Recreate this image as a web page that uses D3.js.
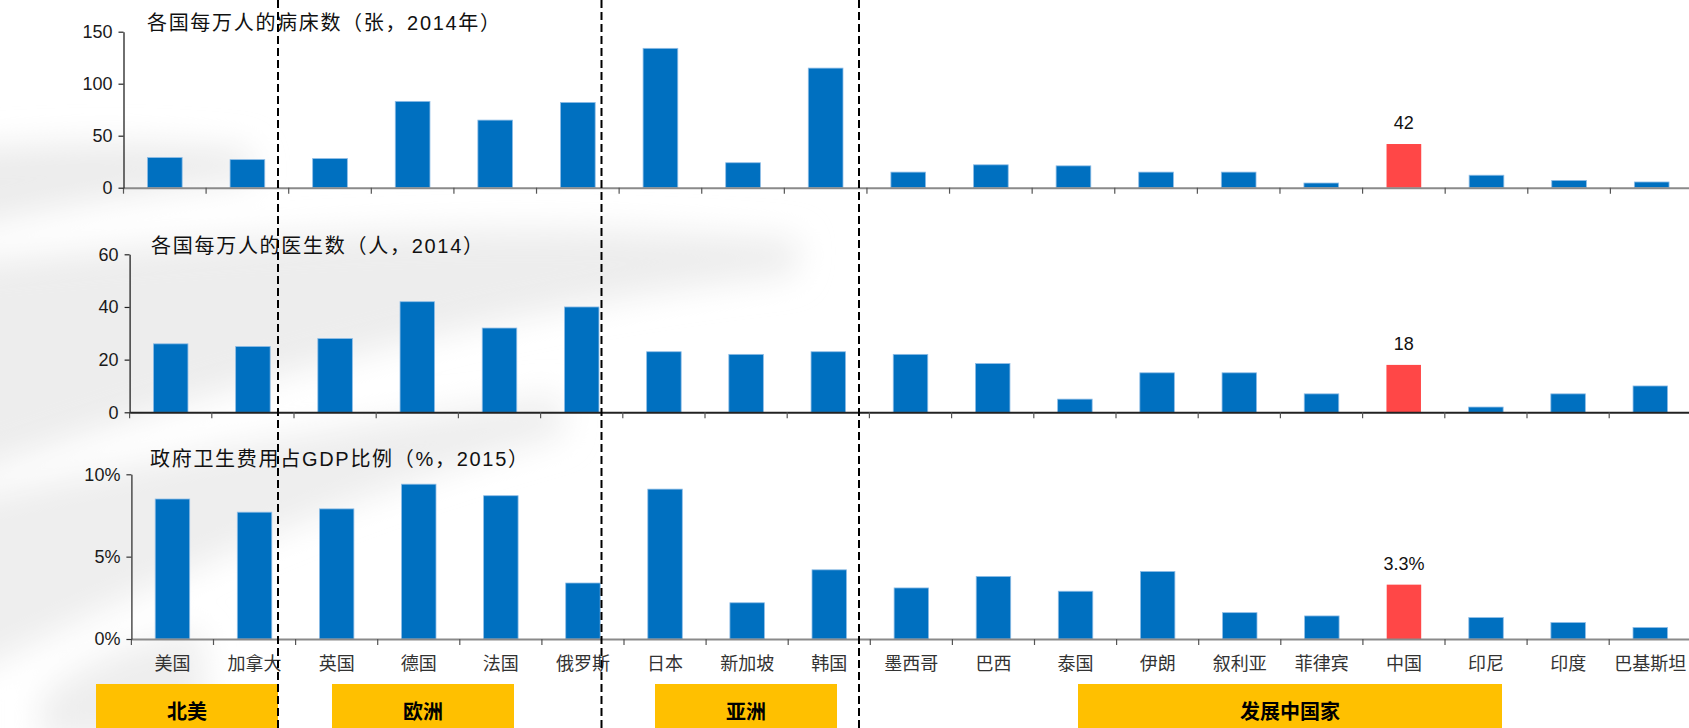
<!DOCTYPE html>
<html>
<head>
<meta charset="utf-8">
<script src="https://cdn.jsdelivr.net/npm/d3@7"></script>
<style>
  html, body { margin: 0; padding: 0; background: #fff; }
  svg { display: block; }
  text { font-family: "Liberation Sans", Arial, "Noto Sans CJK SC", sans-serif; }
</style>
</head>
<body>
<svg id="chart" width="1689" height="728"></svg>
<script>
// Countries along the shared category axis
const categories = ["美国","加拿大","英国","德国","法国","俄罗斯","日本","新加坡","韩国",
  "墨西哥","巴西","泰国","伊朗","叙利亚","菲律宾","中国","印尼","印度","巴基斯坦"];

// Hospital beds per 10,000 people (2014)
const bedsPer10k = [29,27,28,83,65,82,134,24,115,15,22,21,15,15,4.5,42,12,7,5.5];
// Doctors per 10,000 people (2014)
const doctorsPer10k = [26,25,28,42,32,40,23,22,23,22,18.5,5,15,15,7,18,2,7,10];
// Government health expenditure as % of GDP (2015)
const govHealthGdp = [8.5,7.7,7.9,9.4,8.7,3.4,9.1,2.2,4.2,3.1,3.8,2.9,4.1,1.6,1.4,3.3,1.3,1.0,0.7];

const bedsTicks = [0,50,100,150];
const doctorsTicks = [0,20,40,60];
const gdpTicks = [0,5,10];

const panelTitles = ["各国每万人的病床数（张，2014年）","各国每万人的医生数（人，2014）","政府卫生费用占GDP比例（%，2015）"];
const highlighted = "中国";
const highlightLabels = ["42","18","3.3%"];

const regionNames = ["北美","欧洲","亚洲","发展中国家"];

const svg = d3.select("#chart");
const W = 1689, H = 728;
const CJK = "\"Noto Sans CJK SC\", sans-serif";

// Faint grey swooshes in the background
const defs = svg.append("defs");
defs.append("filter").attr("id","soft").attr("x","-50%").attr("y","-50%").attr("width","200%").attr("height","200%")
  .append("feGaussianBlur").attr("stdDeviation", 16);
const bg = svg.append("g").attr("filter","url(#soft)").attr("stroke","none");
bg.append("path").attr("fill","#ececec")
  .attr("d","M-60,150 C60,140 160,140 250,150 L255,180 C160,190 60,205 -60,235 Z");
bg.append("path").attr("fill","#ededed")
  .attr("d","M-60,265 C220,235 520,215 800,240 L795,275 C540,300 260,370 -60,485 Z");
bg.append("path").attr("fill","#eeeeee")
  .attr("d","M-60,505 C140,460 340,425 560,395 L565,435 C360,490 200,560 -60,690 Z");
bg.append("path").attr("fill","#eeeeee")
  .attr("d","M40,700 C80,660 140,640 200,630 L210,740 L40,740 Z");

// Panel layout
const panels = [
  { values: bedsPer10k, ticks: bedsTicks, fmt: d => d, domain: [0,150],
    x0: 123.5, x1: 1693, yBase: 187.7, yTop: 31.7, titleX: 147, titleY: 23, titleLen: 353,
    baseColor: "#8a8a8a", axisColor: "#222" },
  { values: doctorsPer10k, ticks: doctorsTicks, fmt: d => d, domain: [0,60],
    x0: 129.6, x1: 1691.4, yBase: 412.3, yTop: 254.3, titleX: 151, titleY: 246, titleLen: 332,
    baseColor: "#222", axisColor: "#222" },
  { values: govHealthGdp, ticks: gdpTicks, fmt: d => d + "%", domain: [0,10],
    x0: 131.4, x1: 1691.3, yBase: 639, yTop: 474.3, titleX: 150, titleY: 459, titleLen: 378,
    baseColor: "#8a8a8a", axisColor: "#333" }
];

let lastX = null;
panels.forEach((p, pi) => {
  const x = d3.scaleBand().domain(categories).range([p.x0, p.x1]).paddingInner(0).paddingOuter(0);
  const y = d3.scaleLinear().domain(p.domain).range([p.yBase, p.yTop]);
  const barW = x.bandwidth() * 0.42;
  const g = svg.append("g");

  // bars
  g.selectAll("rect.bar").data(categories).enter().append("rect")
    .attr("class","bar")
    .attr("x", d => x(d) + (x.bandwidth() - barW) / 2)
    .attr("width", barW)
    .attr("y", (d, i) => y(p.values[i]))
    .attr("height", (d, i) => y(0) - y(p.values[i]))
    .attr("fill", d => d === highlighted ? "#FF4747" : "#0070C0")
    .attr("stroke", d => d === highlighted ? "none" : "#8fbde6")
    .attr("stroke-width", 0.8);

  // value label on highlighted bar
  const hi = categories.indexOf(highlighted);
  g.append("text")
    .attr("x", x(highlighted) + x.bandwidth() / 2)
    .attr("y", y(p.values[hi]) - 21)
    .attr("text-anchor","middle").attr("dominant-baseline","central")
    .attr("font-size", 18).attr("fill","#111")
    .text(highlightLabels[pi]);

  // x axis: baseline with band-boundary ticks
  const xAxis = d3.axisBottom(x).tickSize(0).tickFormat("");
  const xa = g.append("g").attr("transform", `translate(0,${p.yBase})`).call(xAxis);
  xa.select(".domain").attr("stroke", p.baseColor).attr("stroke-width", 2);
  g.selectAll("line.xtick").data(categories).enter().append("line")
    .attr("x1", d => x(d)).attr("x2", d => x(d))
    .attr("y1", p.yBase).attr("y2", p.yBase + 6)
    .attr("stroke", "#555").attr("stroke-width", 1.2);

  // y axis
  const yAxis = d3.axisLeft(y).tickValues(p.ticks).tickFormat(p.fmt).tickSizeInner(5).tickSizeOuter(0).tickPadding(6);
  const ya = g.append("g").attr("transform", `translate(${p.x0},0)`).call(yAxis);
  ya.select(".domain").attr("stroke", p.axisColor).attr("stroke-width", 1.3);
  ya.selectAll(".tick line").attr("stroke", p.axisColor).attr("stroke-width", 1.2);
  ya.selectAll(".tick text").attr("font-size", 18).attr("fill", "#1a1a1a")
    .attr("font-family", "\"Liberation Sans\", Arial, sans-serif");

  // panel title
  g.append("text")
    .attr("x", p.titleX).attr("y", p.titleY)
    .attr("dominant-baseline","central")
    .attr("font-size", 20).attr("fill","#111")
    .attr("textLength", p.titleLen).attr("lengthAdjust","spacing")
    .text(panelTitles[pi]);

  lastX = { x, p };
});

// category labels below the bottom panel
svg.append("g").selectAll("text").data(categories).enter().append("text")
  .attr("x", d => lastX.x(d) + lastX.x.bandwidth() / 2)
  .attr("y", 662)
  .attr("text-anchor","middle").attr("dominant-baseline","central")
  .attr("font-size", 18).attr("fill","#333")
  .style("font-family", CJK)
  .text(d => d);

// region boxes
const regionBoxes = [[96,278],[332,514],[655,837],[1078,1502]];
const rg = svg.append("g");
regionNames.forEach((name, i) => {
  const [a, b] = regionBoxes[i];
  rg.append("rect").attr("x", a).attr("y", 684).attr("width", b - a).attr("height", H - 684).attr("fill", "#FFC000");
  rg.append("text").attr("x", (a + b) / 2).attr("y", 710)
    .attr("text-anchor","middle").attr("dominant-baseline","central")
    .attr("font-size", 20).attr("font-weight","bold").attr("fill","#000")
    .style("font-family", CJK)
    .text(name);
});

// dashed region separators
[278, 601.5, 859].forEach(xv => {
  svg.append("line").attr("x1", xv).attr("x2", xv).attr("y1", 0).attr("y2", H)
    .attr("stroke", "#000").attr("stroke-width", 2).attr("stroke-dasharray", "8,4");
});
</script>
</body>
</html>
